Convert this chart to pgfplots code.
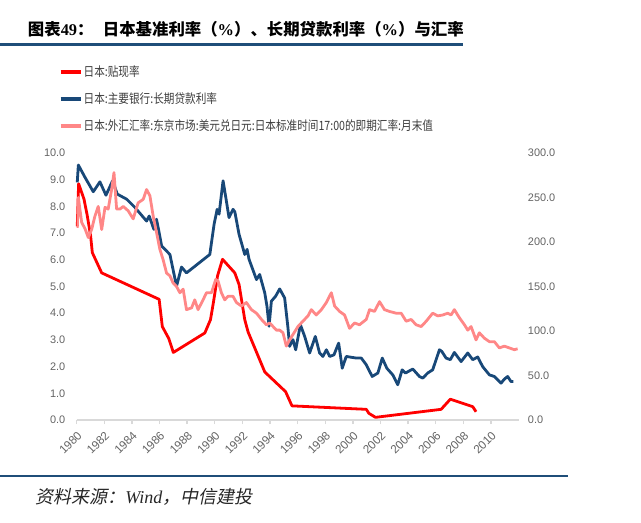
\documentclass[border=0pt]{standalone}
\usepackage{pgfplots}
\pgfplotsset{compat=1.18}
\usepackage{fontspec}
\setmainfont{Liberation Sans}
\newfontfamily\cjk{Noto Sans CJK SC}
\newfontfamily\cjkleg[FakeStretch=0.83]{Noto Sans CJK SC}
\newfontfamily\cjksrc[FakeSlant=0.2]{Noto Sans CJK SC}
\newfontfamily\timesf{Liberation Serif}
\definecolor{titleblue}{RGB}{31,78,121}
\definecolor{cred}{RGB}{255,0,0}
\definecolor{cblue}{RGB}{24,72,120}
\definecolor{cpink}{RGB}{255,135,135}
\definecolor{tickgray}{RGB}{100,100,100}
\definecolor{axgray}{RGB}{217,217,217}
\definecolor{leggray}{RGB}{60,60,60}
\begin{document}
\begin{tikzpicture}
\path[use as bounding box] (0,0) rectangle (480.75pt,-391.5pt);
\begin{scope}[x=0.75pt,y=-0.75pt]
\node[anchor=base west,inner sep=0pt] at (27.7,35) {\fontsize{12.3}{14}\selectfont{\cjk\bfseries 图表}{\timesf\bfseries 49}{\cjk\bfseries ：}\hspace{7pt}{\cjk\bfseries 日本基准利率（}{\timesf\bfseries\%}{\cjk\bfseries ）、长期贷款利率（}{\timesf\bfseries\%}{\cjk\bfseries ）与汇率}};
\draw[titleblue,line width=2.4pt] (0,44.5) -- (463,44.5);
\draw[titleblue,line width=1.4pt] (0,476) -- (568,476);
\node[anchor=base west,inner sep=0pt,text=black!85] at (35,503) {\fontsize{13.5}{15}\selectfont{\cjksrc 资料来源：}{\timesf\itshape Wind}{\cjksrc ，中信建投}};
\end{scope}
\begin{axis}[
  at={(57.525pt,-315pt)}, anchor=south west,
  width=331.4pt, height=200.25pt, scale only axis,
  xmin=1980, xmax=2012, ymin=0, ymax=10,
  axis x line*=bottom, axis y line*=left,
  x axis line style={draw=axgray,line width=1.1pt},
  y axis line style={draw=none},
  xtick={1980,1982,...,2010},
  ytick={0,1,...,10},
  tick align=outside, major tick length=3pt,
  xtick style={draw=axgray,line width=1pt},
  ytick style={draw=none},
  /pgf/number format/assume math mode=true,
  xticklabel style={rotate=45,anchor=north east,font=\fontsize{8.8}{9}\selectfont,text=tickgray,/pgf/number format/1000 sep={}},
  yticklabel style={font=\fontsize{8.2}{9}\selectfont,text=tickgray,/pgf/number format/fixed,/pgf/number format/fixed zerofill,/pgf/number format/precision=1,xshift=-2pt},
  legend style={at={(-0.0407,1.333)},anchor=north west,draw=none,fill=none,inner sep=0pt,row sep=8.6pt,
    font=\cjkleg\fontsize{9.6}{11}\selectfont,text=leggray,cells={anchor=west},nodes={inner sep=1pt}},
  legend image code/.code={\draw[#1,line width=2.5pt] (0pt,0pt) -- (15pt,0pt);},
  clip=false,
]
\addplot[cred,line width=2.1pt,line join=round] coordinates {
(1980.04,7.25)(1980.14,8.85)(1980.53,8.27)(1980.77,7.64)(1981.01,6.89)(1981.13,6.27)(1981.81,5.51)(1985.97,4.52)(1986.20,3.50)(1986.67,3.05)(1987.00,2.53)(1989.28,3.26)(1989.69,3.76)(1989.90,4.40)(1990.20,5.40)(1990.56,6.02)(1991.45,5.51)(1991.76,5.07)(1992.17,3.76)(1992.41,3.30)(1993.62,1.80)(1995.13,1.06)(1995.59,0.53)(2000.97,0.40)(2001.16,0.25)(2001.64,0.10)(2006.39,0.40)(2007.06,0.78)(2008.68,0.50)(2008.92,0.31)
};
\addlegendentry{日本:贴现率}
\addplot[cblue,line width=2.1pt,line join=round] coordinates {
(1980.04,8.90)(1980.12,9.55)(1980.60,9.09)(1981.20,8.55)(1981.68,8.92)(1982.12,8.42)(1982.60,8.96)(1982.94,8.46)(1983.62,8.27)(1984.22,7.96)(1985.06,7.45)(1985.25,7.64)(1985.59,7.14)(1985.78,7.52)(1985.97,7.02)(1986.15,6.52)(1986.75,6.20)(1987.23,5.01)(1987.59,5.73)(1987.95,5.51)(1989.64,6.20)(1989.95,7.33)(1990.17,7.89)(1990.31,7.71)(1990.60,8.96)(1990.80,8.33)(1991.03,7.58)(1991.32,7.89)(1991.45,7.80)(1991.76,6.95)(1991.93,6.64)(1992.17,6.20)(1992.34,6.39)(1992.48,6.02)(1993.02,5.26)(1993.25,5.45)(1993.62,4.76)(1993.78,4.26)(1993.93,3.51)(1994.10,4.45)(1994.41,4.64)(1994.70,4.91)(1995.06,4.57)(1995.30,3.45)(1995.42,2.76)(1995.66,3.01)(1995.86,2.63)(1996.20,3.57)(1996.51,3.13)(1996.87,2.51)(1997.28,3.13)(1997.59,2.51)(1997.83,2.38)(1998.08,2.63)(1998.32,2.38)(1998.63,2.44)(1998.97,2.88)(1999.23,1.94)(1999.52,2.38)(2000.25,2.32)(2000.61,2.32)(2000.97,2.07)(2001.40,1.63)(2001.81,1.76)(2002.13,2.32)(2002.46,1.94)(2002.89,1.69)(2003.25,1.32)(2003.57,1.88)(2003.81,1.76)(2004.34,1.91)(2004.82,1.63)(2005.06,1.57)(2005.42,1.76)(2005.78,1.88)(2006.27,2.63)(2006.44,2.57)(2006.75,2.32)(2007.06,2.26)(2007.35,2.53)(2007.84,2.19)(2008.32,2.51)(2008.68,2.26)(2009.04,2.36)(2009.40,2.00)(2009.89,1.69)(2010.25,1.63)(2010.73,1.38)(2010.97,1.53)(2011.21,1.63)(2011.45,1.44)(2011.62,1.44)
};
\addlegendentry{日本:主要银行:长期贷款利率}
\addlegendimage{cpink,line width=2pt}
\addlegendentry{日本:外汇汇率:东京市场:美元兑日元:日本标准时间17:00的即期汇率:月末值}
\end{axis}
\begin{axis}[
  at={(57.525pt,-315pt)}, anchor=south west,
  width=331.4pt, height=200.25pt, scale only axis,
  xmin=1980, xmax=2012, ymin=0, ymax=300,
  axis x line=none, axis y line*=right,
  y axis line style={draw=none},
  ytick={0,50,...,300},
  ytick style={draw=none},
  /pgf/number format/assume math mode=true,
  yticklabel style={font=\fontsize{8.2}{9}\selectfont,text=tickgray,/pgf/number format/fixed,/pgf/number format/fixed zerofill,/pgf/number format/precision=1,xshift=3.5pt},
]
\addplot[cpink,line width=2.1pt,line join=round] coordinates {
(1980.04,216)(1980.12,250)(1980.36,222)(1980.60,215)(1980.84,205)(1981.08,214)(1981.32,229)(1981.56,240)(1981.81,214)(1982.05,239)(1982.28,237)(1982.53,259)(1982.70,278)(1982.89,237)(1983.13,237)(1983.37,240)(1983.73,235)(1984.09,226)(1984.45,244)(1984.82,248)(1985.06,259)(1985.30,252)(1985.54,229)(1985.83,207)(1986.02,192)(1986.26,180)(1986.51,165)(1986.75,162)(1986.98,154)(1987.23,150)(1987.47,143)(1987.71,147)(1987.95,124)(1988.32,126)(1988.55,135)(1988.79,124)(1989.15,135)(1989.40,143)(1989.76,143)(1990.07,158)(1990.24,156)(1990.48,143)(1990.72,135)(1990.96,139)(1991.32,139)(1991.57,132)(1991.93,128)(1992.29,132)(1992.65,124)(1993.02,120)(1993.38,113)(1993.74,107)(1993.98,109)(1994.46,101)(1994.70,101)(1994.94,98)(1995.18,83)(1995.42,90)(1995.66,96)(1996.02,105)(1996.38,111)(1996.75,117)(1996.99,124)(1997.35,118)(1997.72,124)(1998.08,132)(1998.44,143)(1998.68,128)(1999.04,122)(1999.40,118)(1999.76,103)(2000.12,109)(2000.48,107)(2000.97,113)(2001.21,124)(2001.57,122)(2001.93,133)(2002.29,124)(2002.65,122)(2003.14,120)(2003.50,120)(2003.86,111)(2004.22,113)(2004.58,107)(2004.95,105)(2005.31,111)(2005.78,120)(2006.15,117)(2006.51,118)(2006.87,120)(2007.11,118)(2007.35,124)(2007.71,115)(2008.08,107)(2008.32,101)(2008.56,105)(2008.92,90)(2009.16,98)(2009.52,92)(2009.89,88)(2010.25,88)(2010.61,81)(2010.97,83)(2011.33,81)(2011.69,79)(2011.93,80)
};
\end{axis}
\end{tikzpicture}
\end{document}
